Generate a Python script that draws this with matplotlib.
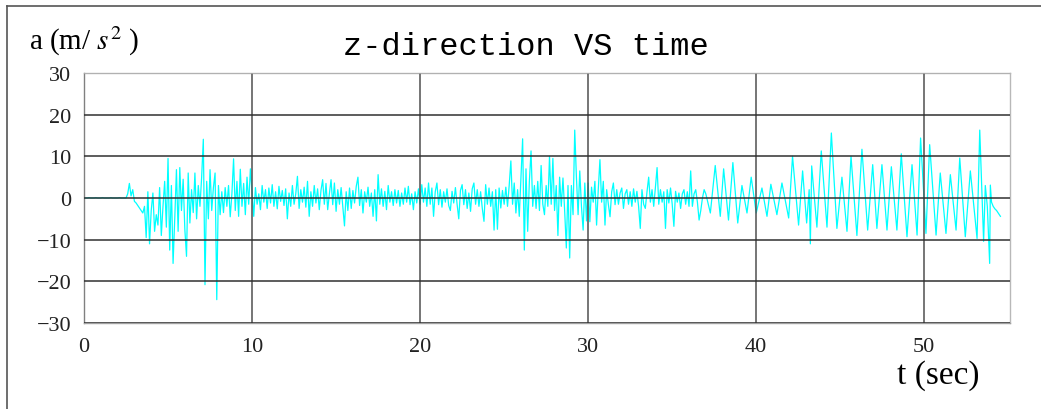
import numpy as np
import matplotlib
matplotlib.use("Agg")
import matplotlib.pyplot as plt
from matplotlib.lines import Line2D

plt.rcParams['mathtext.fontset'] = 'stix'

# ---------------- data ----------------
dt = 0.1  # sampling step of the noisy part (sec)

a_00_05 = [0.0, 0.0, 0.0, 0.1, 0.0, 0.0, 0.0, 0.1, 0.0, 0.0,
           0.0, 0.1, 0.0, 0.0, 0.0, 0.0, 0.1, 0.0, 0.0, 0.0,
           0.0, 0.1, 0.0, 0.0, 0.0, 0.0, 1.0, 3.5, 0.5, 2.0,
           -0.8, -1.2, -1.8, -2.4, -3.0, -3.6, -2.0, -9.5, 1.5, -11.0,
           -3.0, 1.2, -8.0, -4.0, -6.5, 2.5, -9.0, -2.0, 4.0, -7.0]
a_05_10 = [9.5, -12.5, 3.0, -15.7, -5.0, 6.8, -8.0, 7.3, -3.0, 4.5,
           -7.5, -14.0, 6.0, -6.0, 2.0, -3.5, 6.0, -5.0, 3.0, -2.0,
           5.0, 14.1, -20.8, 4.0, -5.0, 6.8, -3.0, 2.5, 6.0, -24.4,
           3.0, -4.0, 1.5, -3.5, 2.5, -2.0, 3.0, -4.5, 1.0, 9.4,
           -3.0, 4.0, -4.4, 6.9, -2.0, 3.5, -4.0, 5.0, -1.5, 7.0]
a_10_15 = [1.5, -4.4, 2.5, -1.5, 1.0, -2.8, 3.0, -1.0, 2.0, -2.5,
           2.4, -1.2, 3.2, -2.0, 1.5, -2.6, 2.8, -0.8, 1.8, -1.8,
           2.2, -5.0, 1.2, -2.0, 3.0, -1.5, 1.0, 5.2, -2.5, 2.0,
           -1.0, 2.6, -2.2, 4.0, -4.4, 1.5, -2.0, 3.0, -1.2, 2.2,
           -2.8, 1.8, 4.4, -1.5, 3.5, -2.8, 1.0, 4.4, -1.6, 3.6]
a_15_20 = [-3.2, 2.0, -1.5, 2.5, -2.0, -6.7, 1.5, -3.0, 2.4, -2.5,
           1.8, -1.2, 2.8, 5.0, -1.8, 2.0, -3.6, 1.5, -1.0, 2.6,
           -2.0, 1.2, -4.4, 2.0, -5.5, 5.6, -1.5, 2.2, -2.0, 1.6,
           -2.8, 3.0, -1.0, 1.5, -1.8, 2.0, -1.2, 1.8, -2.0, 1.2,
           -1.5, 2.4, -1.0, 2.8, -1.6, 1.0, -2.8, 1.5, -1.2, 2.2]
a_20_25 = [-1.5, 3.2, -1.0, 2.4, -2.0, 3.6, -1.5, 2.4, -4.4, 1.5,
           3.6, -1.6, 2.0, -2.2, 1.5, -1.0, 2.2, -1.8, -3.0, 1.6,
           -1.2, 2.5, -1.5, -5.0, 1.8, 3.2, -1.6, 2.0, -2.5, 1.2,
           -3.2, 2.2, 3.6, -1.5, 2.0, -2.0, 1.5, -2.5, -5.6, 3.2,
           -1.5, 2.4, -2.0, 1.5, -7.7, 2.0, -7.5, 2.4, -2.4, 1.8]
a_25_30 = [-1.5, 2.6, -2.0, 3.0, 8.9, -1.5, 3.6, -3.6, 2.0, -4.4,
           5.0, 14.2, -12.5, 7.0, -8.0, 4.0, 11.3, -2.0, 3.0, -2.5,
           4.0, -3.0, 7.8, -1.5, -4.0, 3.0, -2.0, 10.0, -1.5, 9.5,
           -3.0, 3.0, -9.0, 5.0, -2.0, 4.8, -3.0, -12.0, 3.0, -14.4,
           3.0, -4.0, 16.3, 5.0, -4.0, 6.5, -2.0, -7.7, 3.6, -5.5]
a_30_35 = [3.6, -5.7, 2.6, -1.0, 4.0, -6.5, 2.0, 9.2, -1.0, 4.0,
           -6.5, 2.0, -1.5, -4.5, 1.5, 3.6, -1.6, 2.0, -1.5, 1.2,
           2.4, -2.5, 1.0, 2.0, -1.5, 1.5, -2.0, 2.2, -1.0, 1.6,
           -2.0, -7.3, 2.0, -1.5, -2.5, 1.5, 5.0, -1.0, 2.0, -2.0,
           2.5, 7.3, -1.5, 2.0, -1.0, 1.5, -7.3, 2.0, -1.2, 2.4]
a_35_37 = [-1.5, -6.8, 1.6, -1.0, 1.2, -2.5, 1.0, 2.0, -1.5, 1.5,
           -2.0, 6.5, -2.0, 1.0, 2.0, -1.0, -5.3, -3.0, 0.0, 2.0]

# oscillating part: turning points (time, value)
t_osc = [37.0, 37.27, 37.56, 37.86, 38.06, 38.35, 38.61, 38.9, 39.15, 39.45,
         39.7, 40.0, 40.34, 40.64, 40.87, 41.23, 41.53, 41.93, 42.16, 42.52,
         42.76, 43.0, 43.15, 43.22, 43.3, 43.61, 43.87, 44.21, 44.47, 44.8,
         45.1, 45.4, 45.64, 45.99, 46.29, 46.63, 46.93, 47.18, 47.48, 47.78,
         48.04, 48.37, 48.63, 48.97, 49.27, 49.57, 49.78, 50.1, 50.32, 50.7,
         50.95, 51.29, 51.55, 51.89, 52.11, 52.44, 52.74, 53.14, 53.3, 53.53,
         53.63, 53.75, 53.89, 53.93, 54.0, 54.1, 54.2, 54.3, 54.4, 54.53]
a_osc = [1.0, -3.6, 7.8, -4.4, 7.0, -5.3, 8.5, -6.0, 3.0, -3.6,
         5.0, -3.6, 2.4, -4.4, 3.3, -4.0, 3.6, -4.8, 10.0, -6.5,
         6.5, -6.0, 2.0, -11.0, 7.7, -7.0, 11.3, -7.0, 15.6, -7.3,
         5.0, -8.0, 10.0, -9.0, 11.7, -7.7, 8.0, -7.3, 8.0, -7.7,
         7.5, -7.7, 10.6, -9.3, 8.0, -8.9, 14.4, -8.5, 12.8, -8.9,
         6.0, -8.5, 5.6, -7.7, 9.6, -9.3, 6.5, -9.7, 16.3, -10.4,
         3.0, -2.0, -15.7, 3.1, -1.0, -2.0, -2.6, -3.0, -3.6, -4.4]

x_ticks = [0, 10, 20, 30, 40, 50]
y_ticks = [-30, -20, -10, 0, 10, 20, 30]

# ---------------- assemble ----------------
a_noise = np.concatenate([a_00_05, a_05_10, a_10_15, a_15_20,
                          a_20_25, a_25_30, a_30_35, a_35_37])
t_noise = np.arange(len(a_noise)) * dt
t_all = np.concatenate([t_noise, t_osc])
a_all = np.concatenate([a_noise, a_osc])

# ---------------- figure ----------------
W, H = 1041, 410
fig = plt.figure(figsize=(W / 100, H / 100), dpi=100)
ax = fig.add_axes([84 / W, 1 - 324 / H, (1010 - 84) / W, (324 - 74) / H])

ax.plot(t_all, a_all, color='#00FFFF', linewidth=0.9, zorder=2)

ax.set_xlim(0, 55.1)
ax.set_ylim(-30, 30)
ax.set_xticks(x_ticks)
ax.set_yticks(y_ticks)
ax.set_yticklabels(['\u221230', '\u221220', '\u221210', '0', '10', '20', '30'])

ax.set_axisbelow(False)
ax.xaxis.grid(True, color='#505050', linewidth=1.1)
ax.yaxis.grid(True, color='#303030', linewidth=1.1)
for g in ax.get_ygridlines() + ax.get_xgridlines():
    g.set_zorder(3)
ax.get_ygridlines()[-1].set_color('#b0b0b0')
ax.get_xgridlines()[0].set_color('#808080')

ax.tick_params(length=0, labelsize=16)
ax.tick_params(axis='y', pad=9)
ax.tick_params(axis='x', pad=10)
for lab in ax.get_xticklabels() + ax.get_yticklabels():
    lab.set_family('Liberation Serif')
    lab.set_color('#222222')

ax.spines['left'].set_color('#808080')
ax.spines['bottom'].set_color('#a0a0a0')
ax.spines['top'].set_color('#b8b8b8')
ax.spines['right'].set_color('#b8b8b8')
for s in ax.spines.values():
    s.set_linewidth(1.0)

# texts
fig.text(526 / W, 1 - 55 / H, 'z-direction VS time', family='Liberation Mono',
         fontsize=23, ha='center', va='baseline', color='black')
fig.text(29 / W, 1 - 50 / H, r'a (m/ $s^2$ )', family='Liberation Serif',
         fontsize=21, ha='left', va='baseline', color='black')
fig.text(897 / W, 1 - 384 / H, 't (sec)', family='Liberation Serif',
         fontsize=24, ha='left', va='baseline', color='black')

# outer frame (top and left edges)
fig.add_artist(Line2D([7 / W, 7 / W], [0, 1 - 7 / H], transform=fig.transFigure,
                      color='#555555', linewidth=1.2))
fig.add_artist(Line2D([7 / W, 1], [1 - 7 / H, 1 - 7 / H], transform=fig.transFigure,
                      color='#555555', linewidth=1.2))

fig.savefig('out.png', dpi=100)
